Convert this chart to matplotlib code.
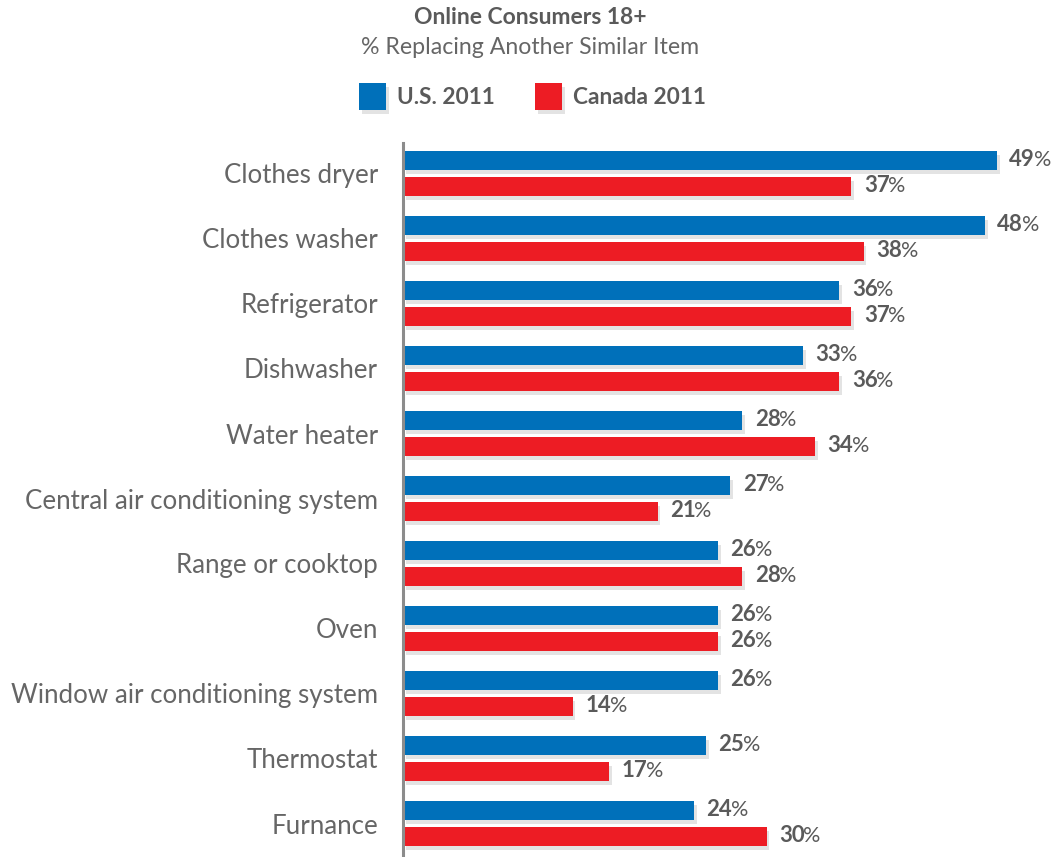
import matplotlib
matplotlib.use("Agg")
import matplotlib.pyplot as plt
import matplotlib.patheffects as pe
from matplotlib.patches import Rectangle

plt.rcParams["font.family"] = ["Lato", "DejaVu Sans"]

categories = [
    "Clothes dryer",
    "Clothes washer",
    "Refrigerator",
    "Dishwasher",
    "Water heater",
    "Central air conditioning system",
    "Range or cooktop",
    "Oven",
    "Window air conditioning system",
    "Thermostat",
    "Furnance",
]
us_2011 = [49, 48, 36, 33, 28, 27, 26, 26, 26, 25, 24]
canada_2011 = [37, 38, 37, 36, 34, 21, 28, 26, 14, 17, 30]
series_names = ["U.S. 2011", "Canada 2011"]

BLUE = "#0070BA"
RED = "#ED1C24"
TEXT = "#666666"
VALUE_TEXT = "#5a5a5a"

W, H = 1058, 857
fig = plt.figure(figsize=(W / 100, H / 100), dpi=100)
ax = fig.add_axes([403 / W, 0, (W - 403) / W, (857 - 143) / H])

shadow = [pe.SimplePatchShadow(offset=(2, -3), shadow_rgbFace="#b0b0b0", alpha=0.35), pe.Normal()]

ypos = list(range(len(categories)))
bar_h = 19 / 65
for vals, color, off in [(us_2011, BLUE, -0.2), (canada_2011, RED, 0.2)]:
    bars = ax.barh([y + off for y in ypos], vals, height=bar_h, color=color, zorder=3)
    for b in bars:
        b.set_path_effects(shadow)
    for y, v in zip(ypos, vals):
        num = ax.annotate(f"{v}", xy=(v, y + off), xytext=(9, 0.5), textcoords="offset points",
                          ha="left", va="center", fontsize=16, fontweight="bold", color=VALUE_TEXT)
        ax.annotate("%", xy=(1, 0.5), xycoords=num, xytext=(-1, 0), textcoords="offset points",
                    ha="left", va="center", fontsize=15.5, color=VALUE_TEXT)

ax.set_xlim(0, (W - 403) / 12.12)
ax.set_ylim((857 - 173.5) / 65, (143 - 173.5) / 65)
ax.set_yticks(ypos)
ax.set_yticklabels(categories, fontsize=18.6, color=TEXT)
ax.tick_params(axis="y", length=0, pad=18)
ax.set_xticks([])
for side in ["top", "right", "bottom"]:
    ax.spines[side].set_visible(False)
ax.spines["left"].set_color("#8c8c8c")
ax.spines["left"].set_linewidth(2.2)
ax.spines["left"].set_zorder(4)

fig.text(530 / W, 1 - 18 / H, "Online Consumers 18+", ha="center", va="center",
         fontsize=16.5, fontweight="bold", color=VALUE_TEXT)
fig.text(530 / W, 1 - 47 / H, "% Replacing Another Similar Item", ha="center", va="center",
         fontsize=16.7, color=TEXT)

# legend drawn by hand: square swatch + bold label
for name, color, x0 in zip(series_names, [BLUE, RED], [359, 535]):
    sw = Rectangle((x0 / W, 1 - 110 / H), 27 / W, 27 / H, transform=fig.transFigure,
                   facecolor=color, edgecolor="none")
    sw.set_path_effects(shadow)
    fig.add_artist(sw)
    fig.text((x0 + 38) / W, 1 - 97 / H, name, ha="left", va="center",
             fontsize=16.3, fontweight="bold", color=VALUE_TEXT)

fig.savefig("out.png", dpi=100, facecolor="white")
